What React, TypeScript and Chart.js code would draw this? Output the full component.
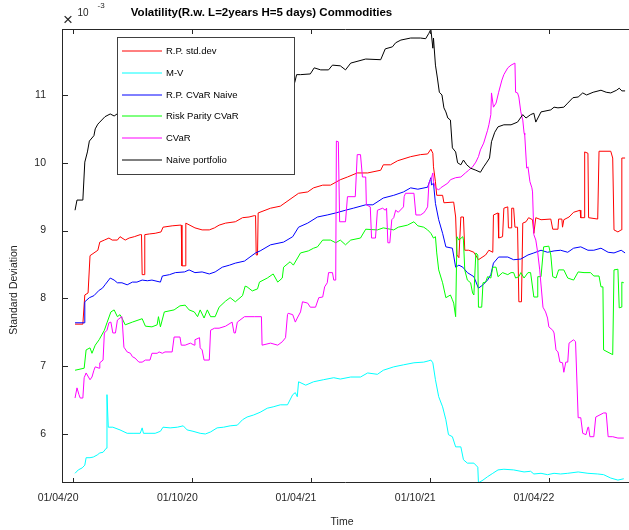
import React, { useEffect, useRef } from "react";
import { Chart, registerables } from "chart.js";

Chart.register(...registerables);

const FONT = "'Liberation Sans', Arial, Helvetica, sans-serif";

// x axis: days since 01/04/2020
const xTickDays = [0, 183, 365, 548, 730];
const xTickLabels = ["01/04/20", "01/10/20", "01/04/21", "01/10/21", "01/04/22"];
const yTickValues = [6, 7, 8, 9, 10, 11];
const yTickLabels = ["6", "7", "8", "9", "10", "11"];

// values in units of 1e-3
const rpStdDays = [3,15,18,23,26,38,41,48,55,60,68,72,80,86,94,103,105,106,109,110,117,126,135,138,152,164,166,167,172,173,187,198,209,217,224,234,249,260,270,278,280,281,283,284,303,318,346,360,369,383,395,410,421,436,452,472,476,487,498,518,533,544,549,552,553,556,558,567,569,584,587,589,592,595,599,601,607,615,622,633,638,644,645,652,653,659,661,667,668,672,673,676,678,682,684,688,690,695,699,705,707,710,718,733,736,744,745,750,751,753,761,768,778,779,784,785,790,791,805,807,825,828,830,836,841,842,847];
const rpStdValues = [7.62,7.62,8.05,8.08,8.63,8.71,8.83,8.86,8.89,8.86,8.86,8.91,8.86,8.89,8.91,8.94,8.94,8.35,8.35,8.94,8.95,8.96,8.98,9.05,9.07,9.08,9.08,8.48,8.48,9.11,9.04,9.01,9.01,9.04,9.08,9.11,9.13,9.19,9.20,9.22,9.22,8.64,8.64,9.26,9.33,9.36,9.55,9.57,9.63,9.67,9.67,9.75,9.79,9.85,9.85,9.89,9.97,9.97,10.03,10.09,10.12,10.13,10.20,10.14,9.94,9.72,9.52,9.52,9.41,9.42,9.20,8.64,8.60,9.20,9.20,8.71,8.71,8.68,8.57,8.64,8.71,8.68,9.23,9.26,8.89,8.91,9.33,9.35,9.04,9.04,9.33,9.33,9.05,9.05,7.95,7.95,9.11,9.13,9.19,9.16,8.96,9.19,9.16,9.17,9.02,9.02,9.17,9.17,9.05,9.16,9.20,9.27,9.30,9.19,9.19,10.16,10.14,9.19,9.17,10.17,10.17,10.07,9.01,8.98,9.01,10.07,10.07];

const mvDays = [3,8,14,18,20,26,31,37,41,46,51,52,54,61,72,83,92,103,106,108,115,126,134,138,149,160,169,175,184,195,203,211,221,231,241,252,260,267,277,287,298,307,318,329,337,341,344,346,357,369,384,400,410,426,441,452,467,476,492,507,523,538,546,549,552,556,561,567,572,576,582,587,595,599,605,615,621,622,629,636,644,652,661,676,692,702,707,718,728,738,748,759,775,790,805,814,825,836,845];
const mvValues = [5.42,5.47,5.50,5.54,5.65,5.65,5.66,5.69,5.72,5.73,5.79,6.58,6.10,6.10,6.06,6.01,6.01,6.01,6.09,6.01,6.01,6.01,6.04,6.10,6.09,6.10,6.12,6.06,6.04,6.01,6.00,6.03,6.09,6.10,6.12,6.13,6.21,6.25,6.28,6.32,6.38,6.40,6.43,6.43,6.58,6.61,6.55,6.77,6.72,6.77,6.80,6.83,6.81,6.84,6.84,6.90,6.88,6.94,6.99,7.02,7.05,7.06,7.08,7.09,7.05,6.80,6.55,6.40,6.21,5.99,5.96,5.81,5.81,5.62,5.57,5.57,5.51,5.28,5.32,5.37,5.42,5.47,5.48,5.47,5.44,5.45,5.41,5.42,5.40,5.42,5.41,5.42,5.44,5.42,5.41,5.40,5.35,5.32,5.34];

const rpCvarDays = [3,17,18,25,32,40,45,49,57,63,68,75,83,91,98,106,114,121,134,137,148,157,171,178,187,198,209,218,229,240,249,263,270,280,287,303,323,337,346,360,375,390,403,418,430,449,460,476,492,507,518,529,544,549,550,553,556,561,567,572,582,587,592,598,605,615,622,629,636,641,645,653,667,676,687,698,707,718,728,738,748,759,768,779,790,799,810,821,830,841,847];
const rpCvarValues = [7.64,7.64,7.95,8.01,8.04,8.12,8.15,8.20,8.30,8.27,8.23,8.23,8.20,8.24,8.24,8.27,8.26,8.27,8.24,8.33,8.35,8.38,8.39,8.42,8.38,8.39,8.36,8.39,8.46,8.49,8.52,8.55,8.60,8.67,8.70,8.79,8.83,8.91,9.05,9.11,9.20,9.23,9.26,9.30,9.33,9.38,9.38,9.48,9.52,9.57,9.63,9.61,9.64,9.78,9.67,9.70,9.40,9.16,8.96,8.76,8.74,8.46,8.49,8.46,8.38,8.32,8.15,8.20,8.27,8.35,8.52,8.61,8.61,8.57,8.58,8.64,8.67,8.71,8.68,8.70,8.71,8.68,8.74,8.76,8.71,8.71,8.74,8.68,8.67,8.71,8.67];

const rpCvarRiskDays = [3,17,20,26,29,34,40,48,52,58,63,68,72,75,80,91,106,111,121,129,131,134,140,155,164,172,178,186,191,195,201,206,211,218,224,234,241,249,260,264,267,275,283,286,298,307,314,321,323,333,338,349,361,369,375,383,395,403,410,418,426,441,449,467,476,492,499,513,523,529,538,544,549,553,556,558,561,567,572,579,582,584,587,589,592,598,599,601,605,610,613,615,618,621,622,627,629,633,636,641,644,649,652,659,667,672,676,679,684,687,692,698,702,707,712,713,718,722,730,733,736,741,745,753,759,768,775,784,794,799,807,810,813,814,828,830,836,838,841,842,845];
const rpCvarRiskValues = [6.94,6.97,7.24,7.27,7.19,7.31,7.39,7.53,7.64,7.80,7.83,7.73,7.76,7.71,7.61,7.65,7.70,7.59,7.58,7.61,7.73,7.58,7.80,7.83,7.89,7.90,7.83,7.80,7.73,7.83,7.71,7.83,7.73,7.73,7.87,7.96,8.01,7.95,8.04,8.18,8.17,8.11,8.14,8.24,8.30,8.36,8.24,8.30,8.46,8.54,8.49,8.67,8.70,8.74,8.76,8.86,8.86,8.82,8.86,8.79,8.86,8.89,9.02,9.01,9.04,9.01,9.05,9.08,9.13,9.07,9.05,9.01,8.96,8.89,8.91,8.67,8.42,8.23,8.01,8.05,7.98,7.93,7.73,8.91,8.86,8.91,8.86,8.42,8.27,8.23,8.08,8.05,8.67,8.64,7.87,7.87,8.23,8.24,8.32,8.30,8.46,8.46,8.32,8.38,8.35,8.38,8.38,8.30,8.32,8.38,8.30,8.38,8.38,8.02,8.02,8.32,8.32,8.76,8.77,8.64,8.32,8.30,8.42,8.42,8.30,8.27,8.39,8.38,8.38,8.33,8.33,8.17,8.17,7.24,7.17,8.42,8.43,7.86,7.87,8.24,8.23];

const cvarDays = [3,6,9,11,15,17,20,26,29,32,34,40,41,46,48,52,55,58,61,65,68,72,75,78,83,88,91,95,101,106,111,118,121,129,132,137,141,152,155,164,166,172,180,186,187,194,195,198,201,209,211,217,224,234,244,247,249,252,263,278,289,290,303,314,321,326,329,330,337,341,344,349,352,360,364,372,377,383,386,390,392,398,400,403,404,407,409,418,421,433,436,441,444,449,450,456,458,464,467,475,479,481,483,486,489,492,495,499,507,508,510,523,526,533,538,541,544,546,550,552,553,556,561,564,575,579,587,595,602,607,613,618,622,625,630,636,638,641,642,645,649,653,658,661,667,672,678,679,682,684,687,690,692,693,696,698,701,704,705,707,710,713,716,721,725,728,730,736,738,741,744,747,751,753,756,759,761,768,771,775,779,782,787,790,791,793,799,802,814,818,821,828,836,845];
const cvarValues = [6.53,6.68,6.58,6.53,6.53,6.83,6.90,6.80,6.84,6.94,6.99,6.97,7.05,7.09,7.49,7.53,7.64,7.65,7.49,7.49,7.68,7.71,7.73,7.28,7.21,7.19,7.14,7.12,7.06,7.06,7.09,7.09,7.19,7.19,7.21,7.19,7.21,7.21,7.43,7.43,7.31,7.31,7.34,7.31,7.39,7.42,7.27,7.24,7.09,7.09,7.53,7.56,7.56,7.59,7.65,7.49,7.49,7.65,7.73,7.73,7.73,7.31,7.34,7.31,7.36,7.42,7.76,7.78,7.76,7.65,7.71,7.80,7.95,7.93,7.87,7.87,8.01,8.02,8.17,8.23,8.38,8.38,8.27,8.27,10.32,10.31,9.13,9.13,9.50,9.50,10.12,10.12,9.79,9.79,9.38,9.35,8.89,8.89,9.30,9.33,9.30,9.33,8.82,8.82,9.16,9.19,9.30,9.27,9.35,9.50,9.55,9.55,9.23,9.23,9.26,9.30,9.35,9.70,9.78,9.85,9.72,9.63,9.60,9.63,9.70,9.75,9.78,9.79,9.85,9.89,9.94,10.01,10.09,10.19,10.29,10.48,10.56,10.71,11.03,10.82,10.88,11.04,11.22,11.30,11.40,11.44,11.47,11.04,11.03,10.97,10.75,10.63,10.44,10.41,9.92,9.94,9.72,9.63,9.57,8.94,8.86,8.67,8.42,7.87,7.80,7.71,7.58,7.53,7.49,7.24,7.21,7.06,7.05,6.91,7.06,7.06,7.34,7.39,7.36,6.24,6.24,6.01,5.99,6.10,6.10,5.96,5.96,6.25,6.31,6.31,5.96,5.96,5.94,5.94];

const naiveDays = [3,6,15,18,22,25,32,34,38,41,49,57,63,72,118,164,211,257,303,333,340,343,349,364,370,380,392,398,410,418,426,449,472,479,490,495,503,518,533,541,546,549,552,553,556,559,562,566,569,572,575,579,582,587,590,595,599,604,610,618,625,630,635,639,642,647,652,661,672,682,690,695,702,707,710,718,733,738,744,753,759,767,775,782,788,798,810,818,825,834,838,842,847];
const naiveValues = [9.30,9.45,9.45,10.01,10.16,10.32,10.40,10.50,10.57,10.60,10.68,10.72,10.69,10.75,10.78,10.85,10.93,10.97,11.04,11.15,11.18,11.30,11.30,11.31,11.40,11.37,11.37,11.44,11.43,11.37,11.47,11.53,11.52,11.68,11.71,11.77,11.81,11.84,11.84,11.83,11.91,11.97,11.69,11.84,11.44,11.25,11.04,11.00,10.81,10.75,10.66,10.63,10.22,10.16,10.00,9.97,10.04,9.97,9.92,9.89,9.86,9.94,10.01,10.07,10.31,10.45,10.53,10.56,10.56,10.60,10.71,10.66,10.71,10.73,10.60,10.75,10.78,10.82,10.81,10.82,10.88,10.96,10.97,11.03,11.00,11.04,11.07,11.04,11.03,11.07,11.10,11.06,11.06];

const seriesNames = ["R.P. std.dev", "M-V", "R.P. CVaR Naive", "Risk Parity CVaR", "CVaR", "Naive portfolio"];
const seriesColors = ["#ff0000", "#00ffff", "#0000ff", "#00ff00", "#ff00ff", "#000000"];
const seriesDays = [rpStdDays, mvDays, rpCvarDays, rpCvarRiskDays, cvarDays, naiveDays];
const seriesValues = [rpStdValues, mvValues, rpCvarValues, rpCvarRiskValues, cvarValues, naiveValues];

const titleText = "Volatility(R.w. L=2years H=5 days) Commodities";
const xTitle = "Time";
const yTitle = "Standard Deviation";

const decorPlugin = {
  id: "decor",
  afterDraw(chart: any) {
    const { ctx, chartArea: a, scales } = chart;
    const xs = scales.x;
    const ys = scales.y;
    ctx.save();
    ctx.strokeStyle = "#262626";
    ctx.lineWidth = 1;
    ctx.beginPath();
    ctx.moveTo(a.left + 0.5, a.top);
    ctx.lineTo(a.left + 0.5, a.bottom);
    ctx.moveTo(a.left, a.bottom - 0.5);
    ctx.lineTo(a.right, a.bottom - 0.5);
    ctx.moveTo(a.left, a.top + 0.5);
    ctx.lineTo(a.right, a.top + 0.5);
    for (const d of xTickDays) {
      const px = Math.round(xs.getPixelForValue(d)) + 0.5;
      ctx.moveTo(px, a.bottom);
      ctx.lineTo(px, a.bottom - 5);
      ctx.moveTo(px, a.top);
      ctx.lineTo(px, a.top + 5);
    }
    for (const v of yTickValues) {
      const py = Math.round(ys.getPixelForValue(v)) + 0.5;
      ctx.moveTo(a.left, py);
      ctx.lineTo(a.left + 6, py);
    }
    ctx.stroke();

    // legend
    const lx = 117.5, ly = 37.5, lw = 177, lh = 137;
    ctx.fillStyle = "#ffffff";
    ctx.fillRect(lx, ly, lw, lh);
    ctx.strokeStyle = "#404040";
    ctx.lineWidth = 1;
    ctx.strokeRect(lx, ly, lw, lh);
    ctx.font = `9.5px ${FONT}`;
    ctx.textAlign = "left";
    ctx.textBaseline = "middle";
    for (let i = 0; i < seriesNames.length; i++) {
      const ry = Math.round(51 + i * 21.8);
      ctx.beginPath();
      ctx.strokeStyle = seriesColors[i];
      ctx.lineWidth = 1;
      ctx.moveTo(122, ry);
      ctx.lineTo(162, ry);
      ctx.stroke();
      ctx.fillStyle = "#000000";
      ctx.fillText(seriesNames[i], 166, ry + 0.5);
    }

    // title
    ctx.fillStyle = "#000000";
    ctx.font = `bold 11.5px ${FONT}`;
    ctx.textAlign = "center";
    ctx.textBaseline = "middle";
    ctx.fillText(titleText, 261.5, 13);

    // exponent label
    ctx.fillStyle = "#262626";
    ctx.textAlign = "left";
    ctx.font = `17px ${FONT}`;
    ctx.fillText("\u00d7", 63, 20);
    ctx.font = `10px ${FONT}`;
    ctx.fillText("10", 77.5, 13.5);
    ctx.font = `8px ${FONT}`;
    ctx.fillText("-3", 97.5, 5.5);

    // axis titles
    ctx.font = `10.5px ${FONT}`;
    ctx.textAlign = "center";
    ctx.fillText(xTitle, 342, 522);
    ctx.translate(14, 290);
    ctx.rotate(-Math.PI / 2);
    ctx.fillText(yTitle, 0, 0);
    ctx.restore();
  },
};

export default function App() {
  const ref = useRef<HTMLCanvasElement>(null);
  useEffect(() => {
    const canvas = ref.current;
    if (!canvas) return;
    const datasets = seriesNames.map((name, i) => ({
      label: name,
      data: seriesDays[i].map((d, j) => ({ x: d, y: seriesValues[i][j] })),
      borderColor: seriesColors[i],
      backgroundColor: seriesColors[i],
      borderWidth: 1,
      pointRadius: 0,
      tension: 0,
      fill: false,
      order: seriesNames.length - i,
    }));
    const chart = new Chart(canvas, {
      type: "line",
      data: { datasets },
      options: {
        responsive: false,
        animation: false,
        devicePixelRatio: 1,
        layout: { padding: { top: 29, left: 0, right: 0, bottom: 0 } },
        plugins: {
          legend: { display: false },
          tooltip: { enabled: false },
          title: { display: false },
        },
        scales: {
          x: {
            type: "linear",
            min: -17,
            max: 853,
            afterBuildTicks: (s: any) => {
              s.ticks = xTickDays.map((v) => ({ value: v }));
            },
            afterFit: (s: any) => {
              s.height = 47;
            },
            grid: { display: false, drawTicks: false },
            border: { display: false },
            ticks: {
              autoSkip: false,
              maxRotation: 0,
              padding: 9,
              labelOffset: -15,
              color: "#262626",
              font: { family: FONT, size: 10.5 },
              callback: (v: any) => {
                const k = xTickDays.indexOf(Number(v));
                return k >= 0 ? xTickLabels[k] : "";
              },
            },
          },
          y: {
            type: "linear",
            min: 5.277,
            max: 11.973,
            afterBuildTicks: (s: any) => {
              s.ticks = yTickValues.map((v) => ({ value: v }));
            },
            afterFit: (s: any) => {
              s.width = 62;
            },
            grid: { display: false, drawTicks: false },
            border: { display: false },
            ticks: {
              autoSkip: false,
              padding: 16,
              color: "#262626",
              font: { family: FONT, size: 10.5 },
              callback: (v: any) => {
                const k = yTickValues.indexOf(Number(v));
                return k >= 0 ? yTickLabels[k] : "";
              },
            },
          },
        },
      },
      plugins: [decorPlugin],
    } as any);
    return () => chart.destroy();
  }, []);
  return (
    <div style={{ position: "absolute", left: 0, top: 0, width: 629, height: 530, background: "#ffffff" }}>
      <canvas ref={ref} width={629} height={530} style={{ display: "block", width: 629, height: 530 }} />
    </div>
  );
}
